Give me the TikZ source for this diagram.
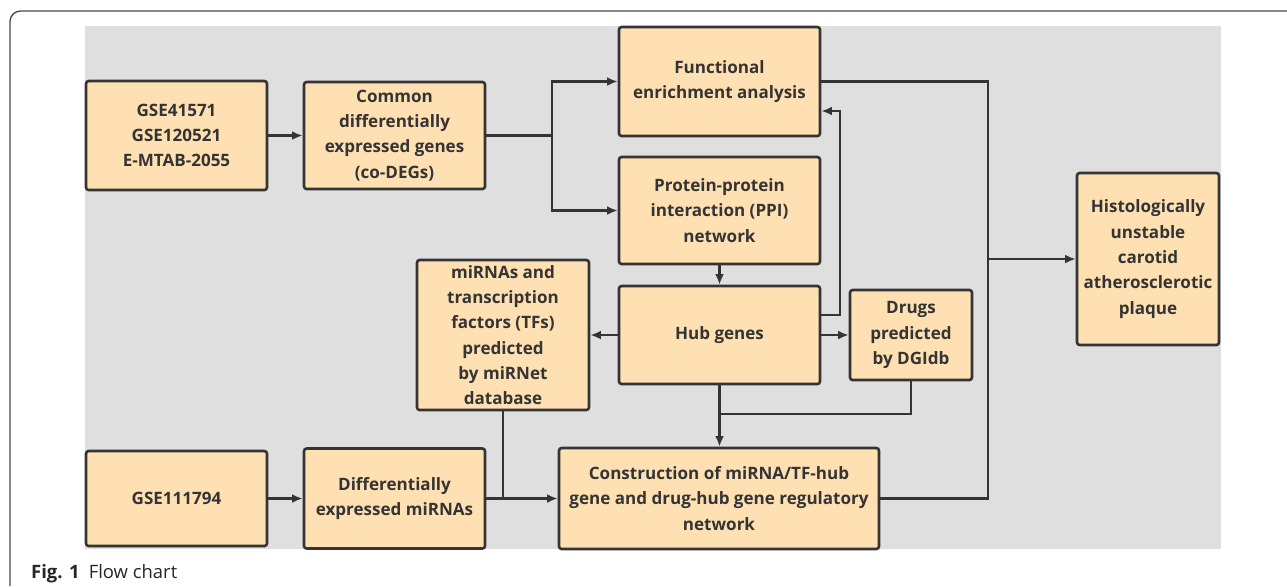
\documentclass[tikz,border=0pt]{standalone}
\usepackage{fontspec}
\setmainfont{Open Sans}
\usetikzlibrary{arrows.meta}
\definecolor{peach}{RGB}{254,224,178}
\definecolor{panel}{RGB}{223,223,223}
\definecolor{ink}{RGB}{52,52,52}

\tikzset{
  box/.style={draw=ink, fill=peach, line width=1.5pt, rounded corners=1.5pt,
    align=center, text=ink, inner sep=1pt,
    font=\bfseries\fontsize{9.7}{14.4}\selectfont},
  link/.style={draw=ink, line width=1.5pt},
  arr/.style={link, -{Latex[length=6pt,width=5pt]}},
}

\begin{document}
\begin{tikzpicture}[x=0.02cm,y=-0.02cm]
    \useasboundingbox (0,0) rectangle (1287,586);
    % frame and panel
    \draw[gray!60!black, line width=0.8pt, rounded corners=6pt] (10,586) -- (10,11) -- (1287,11);
    \fill[panel] (85,26) rectangle (1221,549);
    % boxes
    \node[box, minimum width=3.62cm, minimum height=2.18cm] (src) at (176.5,135.5) {GSE41571\\GSE120521\\E-MTAB-2055};
    \node[box, minimum width=3.62cm, minimum height=2.14cm] (codeg) at (394.5,135.5) {Common\\differentially\\expressed genes\\(co-DEGs)};
    \node[box, minimum width=4.02cm, minimum height=2.18cm] (func) at (719.5,81.5) {Functional\\enrichment analysis};
    \node[box, minimum width=4.02cm, minimum height=2.14cm] (ppi) at (719.5,210.5) {Protein-protein\\interaction (PPI)\\network};
    \node[box, minimum width=4.02cm, minimum height=1.96cm] (hub) at (719.5,335) {Hub genes};
    \node[box, minimum width=3.44cm, minimum height=3.00cm] (mirna) at (503,335) {miRNAs and\\transcription\\factors (TFs)\\predicted\\by miRNet\\database};
    \node[box, minimum width=2.44cm, minimum height=1.80cm] (drug) at (911,335) {Drugs\\predicted\\by DGIdb};
    \node[box, minimum width=2.84cm, minimum height=3.44cm] (hist) at (1148,259) {Histologically\\unstable\\carotid\\atherosclerotic\\plaque};
    \node[box, minimum width=3.62cm, minimum height=1.90cm] (gse) at (176.5,498.5) {GSE111794};
    \node[box, minimum width=3.62cm, minimum height=2.00cm] (demir) at (394.5,498.5) {Differentially\\expressed miRNAs};
    \node[box, minimum width=6.40cm, minimum height=2.02cm] (cons) at (719,498.5) {Construction of miRNA/TF-hub\\gene and drug-hub gene regulatory\\network};
    % junction points
    \coordinate (split) at (552,135.5);
    \coordinate (fb) at (840,315);
    \coordinate (fbtop) at (840,111);
    \coordinate (rail) at (988,259);
    \coordinate (merge) at (719.5,414);
    % connectors
    \draw[arr] (src) -- (codeg);
    \draw[link] (codeg) -- (split);
    \draw[arr] (split) |- (func);
    \draw[arr] (split) |- (ppi);
    \draw[arr] (ppi) -- (hub);
    \draw[arr] (hub) -- (mirna);
    \draw[arr] (hub) -- (drug);
    \draw[arr] (hub.east |- fb) -- (fb) -- (fbtop) -- (func.east |- fbtop);
    \draw[link] (func.east) -| (rail);
    \draw[link] (cons.east) -| (rail);
    \draw[arr] (rail) -- (hist.west |- rail);
    \draw[arr] (hub.south) -- (hub.south |- cons.north);
    \draw[link] (drug.south) |- (merge);
    \draw[link] (mirna.south) -- (mirna.south |- demir.east);
    \draw[arr] (gse) -- (demir);
    \draw[arr] (demir.east) -- (cons.west |- demir.east);
    % caption
    \node[anchor=base west, text=black!85, font=\fontsize{10.5}{12}\selectfont] (cap) at (25,578) {\textbf{Fig. 1}\hspace{0.5em}Flow chart};
\end{tikzpicture}
\end{document}
